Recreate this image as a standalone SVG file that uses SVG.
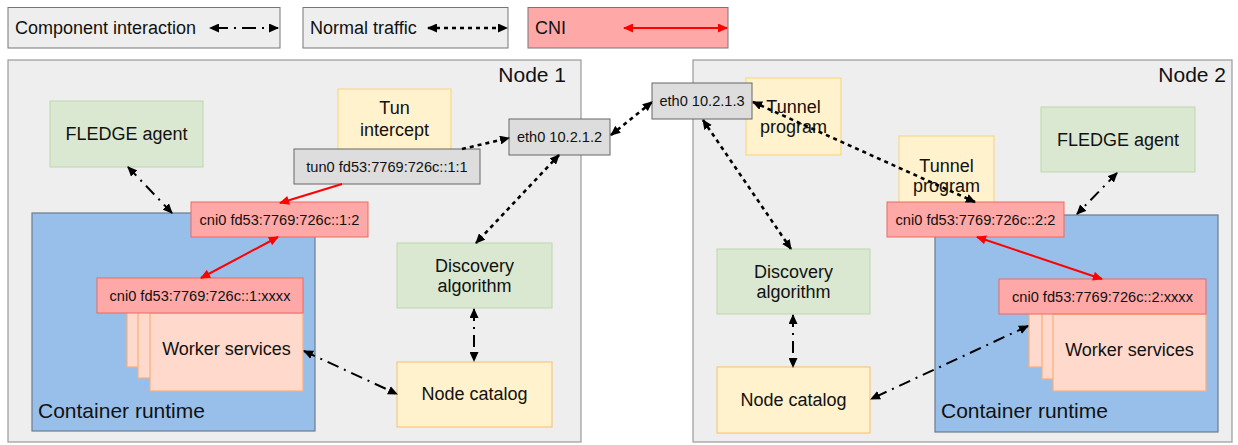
<svg xmlns="http://www.w3.org/2000/svg" width="1238" height="445" viewBox="0 0 1238 445">
  <style>
    text { font-family: "Liberation Sans", Arial, sans-serif; fill: #111; }
    .lbl { font-size: 18px; text-anchor: middle; }
    .sm { font-size: 14.6px; text-anchor: middle; }
    .hdr { font-size: 21px; }
    .legend { fill: #eeeeee; stroke: #777; stroke-width: 1; }
    .node { fill: #eeeeee; stroke: #9a9a9a; stroke-width: 1.2; }
    .green { fill: #dae8d2; stroke: #bcd8ab; stroke-width: 1; }
    .yellow { fill: #fff2cc; stroke: #f6d37c; stroke-width: 1; }
    .catalog { fill: #fff2cc; stroke: #fac57f; stroke-width: 1.2; }
    .iface { fill: #dddddd; stroke: #666; stroke-width: 1; }
    .cni { fill: #ffa8a8; stroke: #ee6a5c; stroke-width: 1; }
    .runtime { fill: #97bfea; stroke: #6b7d8f; stroke-width: 1.2; }
    .worker { fill: #ffd9cc; stroke: #f7b07c; stroke-width: 1.2; }
    .interact { fill: none; stroke: #000; stroke-width: 2; stroke-dasharray: 12 6 2 6; marker-start: url(#headK); marker-end: url(#headK); }
    .traffic { fill: none; stroke: #000; stroke-width: 2.6; stroke-dasharray: 4 4; marker-start: url(#headK); marker-end: url(#headK); }
    .cniLink { fill: none; stroke: #ff0000; stroke-width: 2; marker-start: url(#headR); marker-end: url(#headR); }
  </style>
  <defs>
    <marker id="headK" viewBox="0 0 10 9" refX="9" refY="4.5" markerWidth="10" markerHeight="9" markerUnits="userSpaceOnUse" orient="auto-start-reverse">
      <path d="M0,0 L10,4.5 L0,9 z" fill="#000"/>
    </marker>
    <marker id="headR" viewBox="0 0 10 9" refX="9" refY="4.5" markerWidth="11" markerHeight="9" markerUnits="userSpaceOnUse" orient="auto-start-reverse">
      <path d="M0,0 L10,4.5 L0,9 z" fill="#ff0000"/>
    </marker>
  </defs>

  <rect width="1238" height="445" fill="#ffffff"/>

  <!-- legend -->
  <g id="legend">
    <g id="legend-interaction">
      <rect class="legend" x="8" y="7.5" width="272" height="40.5"/>
      <text x="15" y="34" style="font-size:18px">Component interaction</text>
      <line class="interact" x1="210" y1="28" x2="278" y2="28" style="stroke-dasharray:14 6 2 6; stroke-dashoffset:-4"/>
    </g>
    <g id="legend-traffic">
      <rect class="legend" x="303" y="7.5" width="205" height="40.5"/>
      <text x="310" y="34" style="font-size:18px">Normal traffic</text>
      <line class="traffic" x1="428" y1="28" x2="507" y2="28"/>
    </g>
    <g id="legend-cni">
      <rect class="legend" x="528" y="7.5" width="200" height="40.5" style="fill:#ffa8a8"/>
      <text x="535" y="34" style="font-size:18px">CNI</text>
      <line class="cniLink" x1="624" y1="28" x2="727" y2="28"/>
    </g>
  </g>

  <!-- Node 1 -->
  <g id="node1">
    <rect class="node" x="8" y="60" width="573" height="382"/>
    <text class="hdr" x="566" y="82" text-anchor="end">Node 1</text>
  </g>
  <g id="n1-fledge">
    <rect class="green" x="50" y="101" width="153" height="66"/>
    <text class="lbl" x="126.5" y="140">FLEDGE agent</text>
  </g>
  <g id="n1-tun-intercept">
    <rect class="yellow" x="338" y="89" width="113" height="66"/>
    <text class="lbl" x="394.5" y="114">Tun</text>
    <text class="lbl" x="394.5" y="136">intercept</text>
  </g>
  <g id="n1-runtime">
    <rect class="runtime" x="32" y="213" width="283" height="218"/>
    <text class="hdr" x="38" y="418">Container runtime</text>
  </g>
  <g id="n1-workers">
    <rect class="worker" x="127" y="300" width="153" height="67"/>
    <rect class="worker" x="138" y="300" width="153" height="78"/>
    <rect class="worker" x="150" y="313" width="153" height="78"/>
    <text class="lbl" x="226.5" y="355">Worker services</text>
  </g>
  <g id="n1-cni-pod">
    <rect class="cni" x="97" y="278" width="206" height="35"/>
    <text class="sm" x="200" y="301">cni0 fd53:7769:726c::1:xxxx</text>
  </g>
  <g id="n1-cni-bridge">
    <rect class="cni" x="191" y="202" width="177" height="35"/>
    <text class="sm" x="279.5" y="225">cni0 fd53:7769:726c::1:2</text>
  </g>
  <g id="n1-tun0">
    <rect class="iface" x="294" y="149" width="186" height="35"/>
    <text class="sm" x="387" y="172">tun0 fd53:7769:726c::1:1</text>
  </g>
  <g id="n1-discovery">
    <rect class="green" x="397" y="243" width="155" height="65"/>
    <text class="lbl" x="474.5" y="272">Discovery</text>
    <text class="lbl" x="474.5" y="292">algorithm</text>
  </g>
  <g id="n1-catalog">
    <rect class="catalog" x="397" y="362" width="155" height="65"/>
    <text class="lbl" x="474.5" y="400">Node catalog</text>
  </g>

  <!-- Node 2 -->
  <g id="node2">
    <rect class="node" x="693" y="60" width="539" height="382"/>
    <text class="hdr" x="1226" y="82" text-anchor="end">Node 2</text>
  </g>
  <g id="n2-tunnel-a">
    <rect class="yellow" x="746" y="78" width="95" height="77"/>
    <text class="lbl" x="793.5" y="113">Tunnel</text>
    <text class="lbl" x="793.5" y="133">program</text>
  </g>
  <g id="n2-tunnel-b">
    <rect class="yellow" x="899" y="136" width="95" height="70"/>
    <text class="lbl" x="946.5" y="172">Tunnel</text>
    <text class="lbl" x="946.5" y="192">program</text>
  </g>
  <g id="n2-fledge">
    <rect class="green" x="1041" y="107" width="154" height="65"/>
    <text class="lbl" x="1118" y="146">FLEDGE agent</text>
  </g>
  <g id="n2-runtime">
    <rect class="runtime" x="935" y="215" width="283" height="217"/>
    <text class="hdr" x="941" y="418">Container runtime</text>
  </g>
  <g id="n2-workers">
    <rect class="worker" x="1029" y="300" width="153" height="67"/>
    <rect class="worker" x="1042" y="300" width="153" height="79"/>
    <rect class="worker" x="1053" y="314" width="153" height="77"/>
    <text class="lbl" x="1129.5" y="356">Worker services</text>
  </g>
  <g id="n2-cni-pod">
    <rect class="cni" x="999" y="279" width="207" height="35"/>
    <text class="sm" x="1102.5" y="302">cni0 fd53:7769:726c::2:xxxx</text>
  </g>
  <g id="n2-cni-bridge">
    <rect class="cni" x="887" y="202" width="177" height="35"/>
    <text class="sm" x="975.5" y="225">cni0 fd53:7769:726c::2:2</text>
  </g>
  <g id="n2-discovery">
    <rect class="green" x="717" y="249" width="153" height="65"/>
    <text class="lbl" x="793.5" y="278">Discovery</text>
    <text class="lbl" x="793.5" y="298">algorithm</text>
  </g>
  <g id="n2-catalog">
    <rect class="catalog" x="717" y="367" width="153" height="66"/>
    <text class="lbl" x="793.5" y="406">Node catalog</text>
  </g>

  <!-- host interfaces on the boundary between the nodes -->
  <g id="eth0-node1">
    <rect class="iface" x="509" y="119" width="101" height="36"/>
    <text class="sm" x="559.5" y="142">eth0 10.2.1.2</text>
  </g>
  <g id="eth0-node2">
    <rect class="iface" x="652" y="83" width="100" height="36"/>
    <text class="sm" x="702" y="106">eth0 10.2.1.3</text>
  </g>

  <!-- connectors -->
  <g id="connectors">
    <line class="interact" x1="128" y1="167" x2="172" y2="213"/>
    <line class="interact" x1="474" y1="309" x2="474" y2="361"/>
    <line class="interact" x1="304" y1="351" x2="397" y2="394"/>
    <line class="interact" x1="1117" y1="173" x2="1077" y2="214"/>
    <line class="interact" x1="793" y1="315" x2="793" y2="367"/>
    <line class="interact" x1="1028" y1="326" x2="871" y2="399"/>

    <line class="traffic" x1="462" y1="149" x2="509" y2="138" style="marker-start:none"/>
    <line class="traffic" x1="559" y1="155" x2="476" y2="243"/>
    <line class="traffic" x1="611" y1="135" x2="652" y2="102"/>
    <line class="traffic" x1="703" y1="120" x2="791" y2="249"/>
    <line class="traffic" x1="753" y1="102" x2="975" y2="202"/>

    <line class="cniLink" x1="342" y1="184" x2="280" y2="203" style="marker-start:none"/>
    <line class="cniLink" x1="278" y1="237" x2="201" y2="278"/>
    <line class="cniLink" x1="977" y1="237" x2="1102" y2="279"/>
  </g>
</svg>
